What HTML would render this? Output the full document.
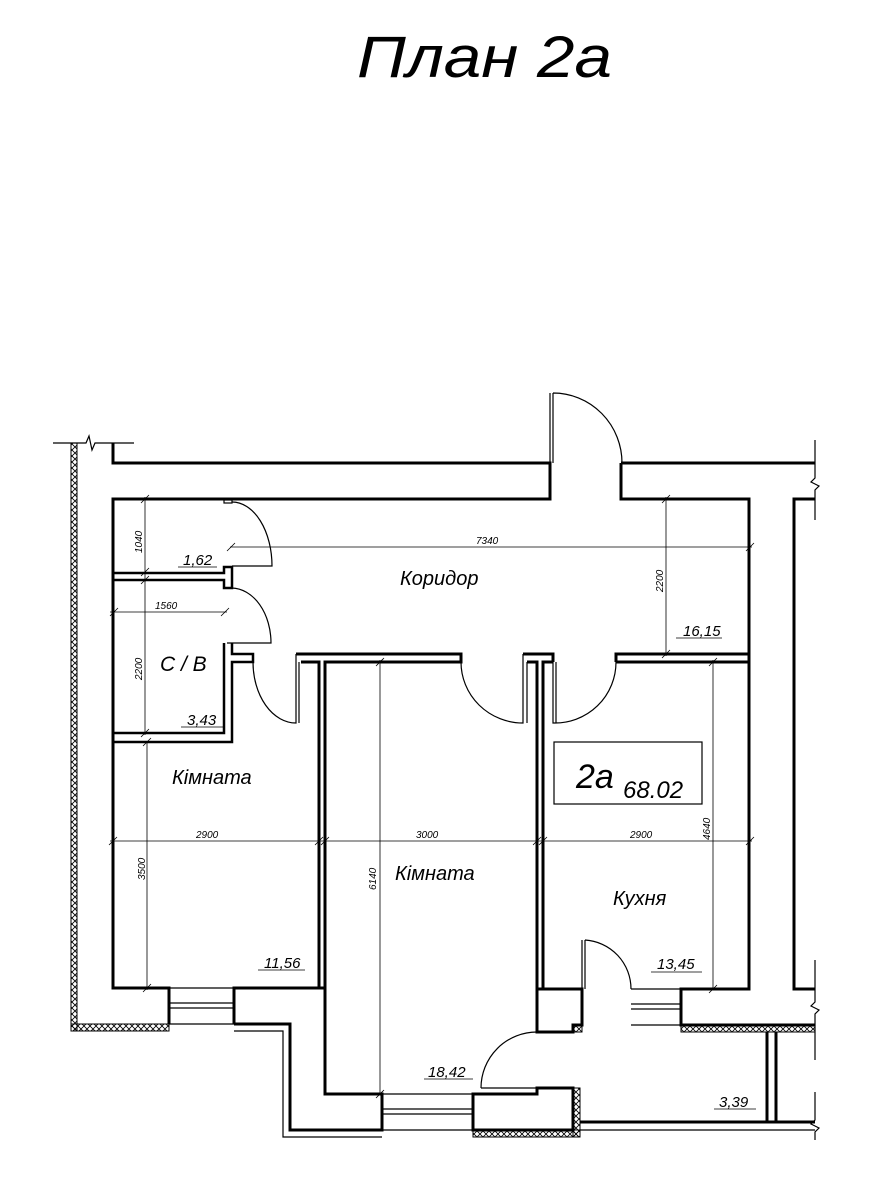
<!DOCTYPE html>
<html><head><meta charset="utf-8"><style>
html,body{margin:0;padding:0;background:#fff}
svg{display:block}
text{font-family:"Liberation Sans",sans-serif;font-style:italic;fill:#000}
</style></head><body>
<svg width="884" height="1200" viewBox="0 0 884 1200" xmlns="http://www.w3.org/2000/svg">
<defs>
<pattern id="h" width="6" height="6" patternUnits="userSpaceOnUse">
<path d="M0 0L6 6M6 0L0 6" stroke="#000" stroke-width="0.8"/>
</pattern>
</defs>
<text x="357" y="77" font-size="58" textLength="255" lengthAdjust="spacingAndGlyphs" font-weight="normal">План 2а</text>

<g fill="none" stroke="#000" stroke-width="3">
<path d="M113 443V463H550V499H113V988H169V1024"/>
<path d="M621 463H815M621 463V499H749V989H681V1025H815"/>
<path d="M815 499H794V989H815"/>
<path d="M234 1024V988H325V1094H382V1130H290V1024H234"/>
<path d="M296 654H461V662H325V988"/>
<path d="M319 988V662H301"/>
<path d="M527 662H537V989M543 989V662H553"/>
<path d="M523 654H553V662"/>
<path d="M616 662V654H749M616 662H749"/>
<path d="M113 573H224V567H232V588H224V580H113" stroke-width="2.5"/>
<path d="M113 733H224V643M232 643V654H253V662H232V742H113" stroke-width="2.5"/>
<path d="M537 989V1032H573V1025H582V989H537"/>
<path d="M580 1122H815M767 1032V1122M776 1032V1122"/>
<path d="M473 1130V1094H537V1088H573V1130Z"/>
</g>
<g fill="none" stroke="#000" stroke-width="1.2">
<path d="M53 443H86L89 436L92 450L95 443H134"/>
<path d="M815 440V478L811 482L819 486L815 490V520"/>
<path d="M815 960V1002L811 1006L819 1010L815 1014V1060"/>
<path d="M815 1092V1120L811 1124L819 1128L815 1132V1140"/>
<path d="M580 1130H815"/>
<path d="M234 1031H283V1137H382"/>
<path d="M169 988H234M169 1003H234M169 1008H234M169 1024H234"/>
<path d="M382 1094H473M382 1109H473M382 1114H473M382 1130H473"/>
<path d="M631 989H681M631 1004H681M631 1009H681M631 1025H681"/>
<path d="M550 393V463M553 393V463M553 393A69 70 0 0 1 622 463"/>
<rect x="224" y="500" width="8" height="3"/>
<path d="M232 502A40 64 0 0 1 272 566H232"/>
<path d="M232 588A40 55 0 0 1 271 643H227"/>
<path d="M253 662A43 61 0 0 0 296 723V654M299 723V662"/>
<path d="M461 662A62 61 0 0 0 523 723V654M527 723V662"/>
<path d="M553 662V723A61 61 0 0 0 616 662M556 723V662"/>
<path d="M582 989V940M585 989V940M585 940A49 49 0 0 1 631 989"/>
<path d="M481 1088H537M481 1094H537M481 1088A56 56 0 0 1 537 1032"/>
<rect x="554" y="742" width="148" height="62"/>
</g>
<g stroke="#000" stroke-width="1" fill="url(#h)">
<rect x="71" y="443" width="6" height="588"/>
<rect x="71" y="1024" width="98" height="7"/>
<rect x="681" y="1025" width="134" height="7"/>
<rect x="573" y="1088" width="7" height="49"/>
<rect x="473" y="1130" width="107" height="7"/>
<rect x="573" y="1025" width="9" height="7"/>
</g>
<g stroke="#000" stroke-width="0.8" fill="none">
<path d="M145 497V582M141 503L149 495M141 576L149 568M141 584L149 576"/>
<path d="M230 547H752M227 551L235 543M746 551L754 543"/>
<path d="M110 612H227M110 616L118 608M221 616L229 608"/>
<path d="M145 580V735M141 737L149 729"/>
<path d="M666 497V656M662 503L670 495M662 658L670 650"/>
<path d="M380 660V1094M376 666L384 658M376 1098L384 1090"/>
<path d="M713 660V989M709 666L717 658M709 993L717 985"/>
<path d="M110 841H752M109 845L117 837M315 845L323 837M321 845L329 837M533 845L541 837M539 845L547 837M746 845L754 837"/>
<path d="M147 742V990M143 746L151 738M143 992L151 984"/>
<path d="M178 567H217M181 727H223M676 638H722M258 970H305M651 972H702M424 1079H473M714 1109H756"/>
</g>
<g font-size="10">
<text x="476" y="544">7340</text>
<text x="155" y="609">1560</text>
<text x="196" y="838">2900</text>
<text x="416" y="838">3000</text>
<text x="630" y="838">2900</text>
<text transform="translate(142,553) rotate(-90)">1040</text>
<text transform="translate(142,680) rotate(-90)">2200</text>
<text transform="translate(663,592) rotate(-90)">2200</text>
<text transform="translate(145,880) rotate(-90)">3500</text>
<text transform="translate(376,890) rotate(-90)">6140</text>
<text transform="translate(710,840) rotate(-90)">4640</text>
</g>
<g font-size="15">
<text x="183" y="565">1,62</text>
<text x="187" y="725">3,43</text>
<text x="683" y="636">16,15</text>
<text x="264" y="968">11,56</text>
<text x="657" y="969">13,45</text>
<text x="428" y="1077">18,42</text>
<text x="719" y="1107">3,39</text>
</g>
<g font-size="20">
<text x="400" y="585">Коридор</text>
<text x="160" y="671" font-size="21">С / В</text>
<text x="172" y="784">Кімната</text>
<text x="395" y="880">Кімната</text>
<text x="613" y="905">Кухня</text>
</g>
<text x="576" y="788" font-size="34">2а</text>
<text x="623" y="798" font-size="24">68.02</text>
</svg>
</body></html>
